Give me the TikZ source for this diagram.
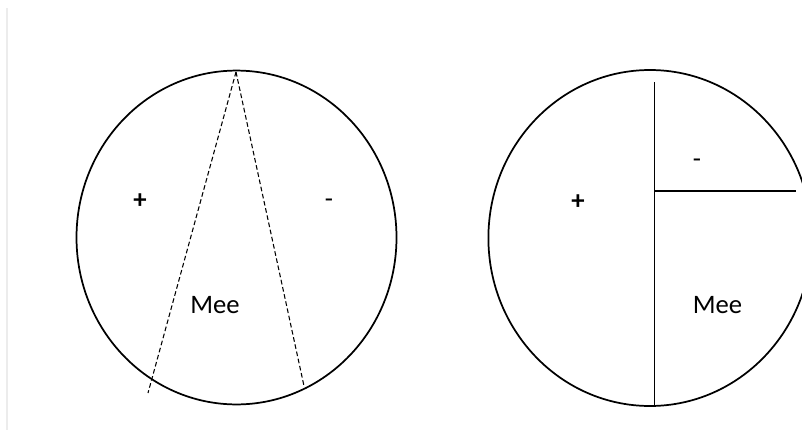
\documentclass[tikz,border=0pt]{standalone}
\usepackage{fontspec}
\setmainfont{Carlito}
\begin{document}
\begin{tikzpicture}[x=0.75pt,y=-0.75pt,
  rim/.style={draw=black,line width=1.3pt},
  cutline/.style={draw=black,line width=0.8pt,dash pattern=on 3.5pt off 2pt},
  splitline/.style={draw=black,line width=0.7pt},
  lbl/.style={inner sep=0pt,font=\fontsize{20}{24}\selectfont},
  sign/.style={inner sep=0pt,font=\fontsize{20}{24}\selectfont\bfseries}]
\useasboundingbox (0,0) rectangle (802,432);
\clip (0,0) rectangle (802,432);
\fill[white] (0,0) rectangle (802,432);
% faint frame line
\draw[gray!15,line width=0.8pt] (7,8) -- (7,430);
% left circle
\coordinate (lc) at (236.5,237.5);
\draw[rim] (lc) ellipse [x radius=120pt, y radius=125.2pt];
\coordinate (ltop) at (236,72);
\coordinate (lbl1) at (148,393);
\coordinate (lbr1) at (304,386);
\draw[cutline] (ltop) -- (lbl1);
\draw[cutline] (ltop) -- (lbr1);
\node[sign] (lplus) at (140,201) {+};
\node[lbl] (lminus) at (329,203) {-};
\node[lbl] (lmee) at (215,305) {Mee};
% right circle
\coordinate (rc) at (650,238);
\draw[rim] (rc) ellipse [x radius=121.2pt, y radius=126pt];
\coordinate (rvt) at (654,82);
\coordinate (rvb) at (654,406);
\coordinate (rhm) at (654,191);
\coordinate (rhe) at (796,191);
\draw[splitline] (rvt) -- (rvb);
\draw[splitline,line width=1pt] (rhm) -- (rhe);
\node[sign] (rplus) at (578,202) {+};
\node[lbl] (rminus) at (697,163) {-};
\node[lbl] (rmee) at (717.5,305) {Mee};
\end{tikzpicture}
\end{document}
